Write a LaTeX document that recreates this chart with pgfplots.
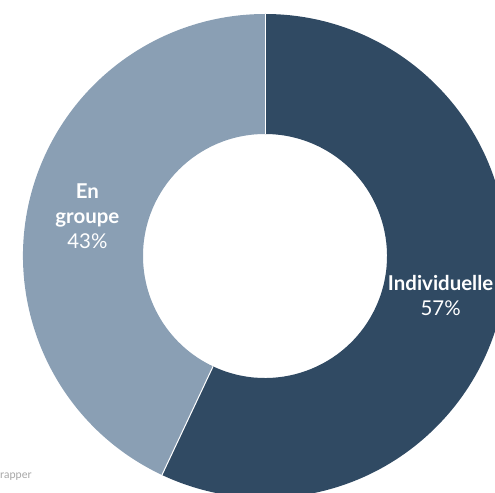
\documentclass[border=0pt]{standalone}
\usepackage{pgfplots}
\pgfplotsset{compat=1.18}
\usepackage{pgfplotstable}
\usetikzlibrary{calc}
\usepackage{fontspec}
\setmainfont{Lato}
\definecolor{indiv}{HTML}{304A63}
\definecolor{grp}{HTML}{8A9FB4}

% share of each mode
\pgfplotstableread[col sep=comma]{
label,value
Individuelle,57
En groupe,43
}\donut
\pgfplotstablegetelem{0}{value}\of\donut \let\va\pgfplotsretval
\pgfplotstablegetelem{1}{value}\of\donut \let\vb\pgfplotsretval
\pgfmathsetmacro\tot{\va+\vb}
\pgfmathsetmacro\aA{90-360*(\va/\tot)}
\pgfmathsetmacro\aB{\aA-360*(\vb/\tot)}
\pgfmathsetmacro\mA{(90+\aA)/2}
\pgfmathsetmacro\mB{(\aA+\aB)/2}

\begin{document}
\begin{tikzpicture}
\begin{axis}[
    at={(0,0)}, anchor=south west,
    x=1bp, y=1bp, scale only axis,
    xmin=0, xmax=495, ymin=0, ymax=493,
    hide axis, clip=true,
]
\coordinate (C) at (axis cs:265,237);
\fill[indiv] ($(C)+(90:242bp)$) arc[start angle=90, end angle=\aA, radius=242bp]
    -- ($(C)+(\aA:122bp)$) arc[start angle=\aA, end angle=90, radius=122bp] -- cycle;
\fill[grp] ($(C)+(\aA:242bp)$) arc[start angle=\aA, end angle=\aB, radius=242bp]
    -- ($(C)+(\aB:122bp)$) arc[start angle=\aB, end angle=\aA, radius=122bp] -- cycle;
\draw[white, line width=1bp] ($(C)+(90:122bp)$) -- ($(C)+(90:242bp)$);
\draw[white, line width=1bp] ($(C)+(\aA:122bp)$) -- ($(C)+(\aA:242bp)$);
\end{axis}
\pgfresetboundingbox
\useasboundingbox (0,0) rectangle (495bp,493bp);
\node[text=white, align=center, font=\fontsize{20.5}{25}\selectfont]
    at ($(263bp,237bp)+(\mA:182bp)$) {\textbf{Individuelle}\\57\%};
\node[text=white, align=center, font=\fontsize{20.5}{25}\selectfont]
    at ($(265bp,237bp)+(\mB:182bp)$) {\textbf{En}\\\textbf{groupe}\\43\%};
\node[anchor=west, text=black!35, font=\fontsize{11}{13}\selectfont, inner sep=0pt]
    at (0,16bp) {rapper};
\end{tikzpicture}
\end{document}
